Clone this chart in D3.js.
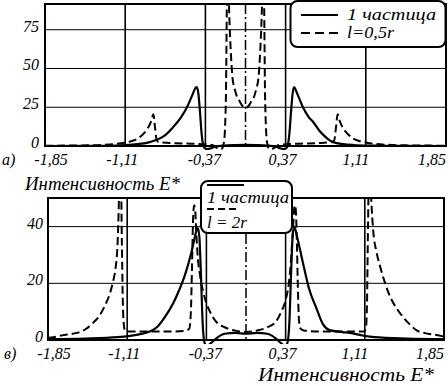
<!DOCTYPE html>
<html><head><meta charset="utf-8">
<script src="https://cdn.jsdelivr.net/npm/d3@7/dist/d3.min.js"></script>
<style>
body{margin:0;background:#fff}
svg{display:block}
text{font-family:"Liberation Serif","Times New Roman","DejaVu Serif",serif;font-style:italic;fill:#000}
</style>
</head><body>
<svg id="c" width="448" height="386"></svg>
<script>
// ---------- data ----------
const xTickValues = [-1.85, -1.11, -0.37, 0.37, 1.11, 1.85];
const xTickLabels = ["-1,85", "-1,11", "-0,37", "0,37", "1,11", "1,85"];
const xGridValues = [-1.11, -0.37, 0.37, 1.11];
const topYTicks = [0, 25, 50, 75];
const botYTicks = [0, 20, 40];
const panelLetters = ["а)", "в)"];
const axisTitle = "Интенсивность E*";
const legendTop = ["1 частица", "l=0,5r"];
const legendBot = ["1 частица", "l = 2r"];

// panel a) : 1 particle (solid)
const topSolidX = [-1.85,-1.4,-1.2,-1.11,-1.0,-0.9,-0.82,-0.75,-0.67,-0.6,-0.54,-0.49,-0.46,-0.45,-0.435,-0.42,-0.405,-0.39,-0.375,-0.35,-0.32,-0.28,-0.2,-0.1,0,0.1,0.2,0.28,0.32,0.35,0.375,0.39,0.405,0.42,0.435,0.45,0.47,0.53,0.58,0.63,0.68,0.72,0.77,0.81,0.9,1.0,1.11,1.2,1.4,1.85];
const topSolidY = [0,0.1,0.3,0.6,1.2,2.2,4,6.5,12,18,25,33,37.5,38,34,22,8,0.5,-1.5,-2,-1.5,-0.5,0.3,0.6,0.7,0.6,0.3,-0.5,-1.5,-2,-1.5,0.5,8,22,34,38,35,25,19,15,10,7,4,2.5,1.2,0.6,0.3,0.2,0.1,0];
// panel a) : l = 0,5r (dashed)
const topDashX = [-1.85,-1.5,-1.3,-1.15,-1.05,-0.99,-0.94,-0.9,-0.87,-0.85,-0.835,-0.82,-0.8,-0.7,-0.5,-0.35,-0.3,-0.27,-0.24,-0.215,-0.2,-0.19,-0.18,-0.17,-0.16,-0.15,-0.135,-0.12,-0.1,-0.08,-0.055,-0.03,0,0.03,0.055,0.08,0.1,0.12,0.135,0.15,0.16,0.17,0.18,0.19,0.2,0.215,0.24,0.27,0.3,0.35,0.5,0.7,0.8,0.82,0.835,0.85,0.87,0.9,0.94,0.99,1.05,1.15,1.3,1.5,1.85];
const topDashY = [0.2,0.4,0.8,1.8,3.2,5,8,11.6,16,20.5,12,4,2.5,2,1.5,1,0.5,-1,-2,-1.5,2,10,35,100,110,85,60,44,37,32,29,26,24.5,26,29,32,37,44,60,85,110,100,35,10,2,-1.5,-2,-1,0.5,1,1.5,2,2.5,4,12,20.5,16,11.6,8,5,3.2,1.8,0.8,0.4,0.2];

// panel в) : 1 particle (solid)
const botSolidX = [-1.85,-1.5,-1.2,-1.0,-0.9,-0.83,-0.76,-0.68,-0.62,-0.57,-0.51,-0.48,-0.46,-0.45,-0.435,-0.42,-0.405,-0.39,-0.375,-0.36,-0.33,-0.28,-0.2,-0.1,0,0.1,0.2,0.28,0.33,0.36,0.375,0.39,0.405,0.42,0.435,0.45,0.48,0.53,0.59,0.66,0.72,0.78,0.9,0.97,1.1,1.2,1.5,1.85];
const botSolidY = [0.3,0.5,1,2,3,4.6,8,13,18,23,31,36,39,39.5,36,22,6,-0.5,-1.8,-2,-1.2,0.5,2.2,2.5,2.2,2.5,2.2,0.5,-1.2,-2,-1.8,-0.5,6,22,36,40,36,27.5,18,11,5.5,3.5,2.8,2.5,1.5,1,0.5,0.3];
// panel в) : l = 2r (dashed)
const botDashX = [-1.85,-1.8,-1.7,-1.58,-1.5,-1.43,-1.37,-1.32,-1.27,-1.24,-1.22,-1.2,-1.19,-1.18,-1.17,-1.16,-1.15,-1.14,-1.13,-1.11,-0.9,-0.7,-0.57,-0.53,-0.515,-0.505,-0.495,-0.485,-0.475,-0.465,-0.45,-0.43,-0.4,-0.37,-0.33,-0.28,-0.2,-0.1,0,0.1,0.2,0.28,0.33,0.37,0.4,0.42,0.44,0.455,0.465,0.475,0.485,0.495,0.51,0.55,0.7,0.9,1.1,1.12,1.13,1.14,1.15,1.16,1.17,1.19,1.22,1.26,1.3,1.35,1.41,1.47,1.53,1.59,1.7,1.78,1.85];
const botDashY = [0.8,1,1.8,2.5,3.8,6,8.5,12,16.6,21,25,34,45,60,60,35,12,5,3.2,3,3,3,3.2,4,10,25,42,47.5,46,38,29,23,17,13,9.5,6.5,4.5,3.3,2.8,3.3,4.5,6.5,10,14,20,28,40,47.5,46,35,18,7,4,3.3,3,3,3,4,12,40,60,60,50,38,31,25,20,15,11,8,5.5,3.5,2.2,1.8,1.2];

// ---------- drawing ----------
const svg = d3.select("#c");
const labelDx = [6, -3, -1, -3, -10, -14];

function panel(o) {
  const x = d3.scaleLinear().domain([-1.85, 1.85]).range([o.left, o.right]);
  const y = d3.scaleLinear().domain([0, o.ymax]).range([o.bottom, o.top]);
  const g = svg.append("g");
  const cid = "clip" + o.id;
  svg.append("clipPath").attr("id", cid).append("rect")
    .attr("x", o.left).attr("y", o.top).attr("width", o.right - o.left).attr("height", o.bottom - o.top + 4);

  g.selectAll(".hg").data(o.yTicks.filter(d => d > 0)).enter().append("line")
    .attr("x1", o.left).attr("x2", o.right).attr("y1", d => y(d)).attr("y2", d => y(d))
    .attr("stroke", "#000").attr("stroke-width", 1);
  g.selectAll(".vg").data(xGridValues).enter().append("line")
    .attr("x1", d => x(d)).attr("x2", d => x(d)).attr("y1", o.top).attr("y2", o.bottom)
    .attr("stroke", "#000").attr("stroke-width", 1.6);
  g.append("line").attr("x1", x(0)).attr("x2", x(0)).attr("y1", o.top).attr("y2", o.bottom)
    .attr("stroke", "#000").attr("stroke-width", 1.5).attr("stroke-dasharray", "10,3,2,3");

  const line = d3.line().x(d => x(d[0])).y(d => y(d[1])).curve(d3.curveMonotoneX);
  const lg = g.append("g").attr("clip-path", `url(#${cid})`);
  lg.append("path").datum(d3.zip(o.dX, o.dY)).attr("d", line)
    .attr("fill", "none").attr("stroke", "#000").attr("stroke-width", 2).attr("stroke-dasharray", "8,4");
  lg.append("path").datum(d3.zip(o.sX, o.sY)).attr("d", line)
    .attr("fill", "none").attr("stroke", "#000").attr("stroke-width", 2.2);

  g.append("rect").attr("x", o.left).attr("y", o.top).attr("width", o.right - o.left).attr("height", o.bottom - o.top)
    .attr("fill", "none").attr("stroke", "#000").attr("stroke-width", 2);

  g.selectAll(".yl").data(o.yTicks).enter().append("text")
    .attr("x", o.yLabelX).attr("y", d => y(d) + 2).attr("text-anchor", "end")
    .attr("font-size", 16).text(d => d);
  g.selectAll(".xl").data(xTickValues).enter().append("text")
    .attr("x", (d, i) => x(d) + labelDx[i]).attr("y", o.xLabelY).attr("text-anchor", "middle")
    .attr("font-size", 16).text((d, i) => xTickLabels[i]);
  g.append("text").attr("x", o.letterX).attr("y", o.xLabelY).attr("font-size", 16).text(o.letter);
  return {x, y};
}

panel({id: "a", left: 45, right: 446, top: 4, bottom: 146, ymax: 91.6, yTicks: topYTicks,
  sX: topSolidX, sY: topSolidY, dX: topDashX, dY: topDashY, yLabelX: 39, xLabelY: 165, letter: panelLetters[0], letterX: 2});
panel({id: "b", left: 48, right: 444, top: 198, bottom: 340, ymax: 50.1, yTicks: botYTicks,
  sX: botSolidX, sY: botSolidY, dX: botDashX, dY: botDashY, yLabelX: 43, xLabelY: 359, letter: panelLetters[1], letterX: 4});

svg.append("text").attr("x", 25).attr("y", 190).attr("font-size", 18)
  .attr("textLength", 155).attr("lengthAdjust", "spacingAndGlyphs").text(axisTitle);
svg.append("text").attr("x", 258).attr("y", 381).attr("font-size", 19)
  .attr("textLength", 176).attr("lengthAdjust", "spacingAndGlyphs").text(axisTitle);

const L1 = svg.append("g");
L1.append("rect").attr("x", 290.5).attr("y", 1).attr("width", 155).attr("height", 46).attr("rx", 7)
  .attr("fill", "#fff").attr("stroke", "#000").attr("stroke-width", 2);
L1.append("line").attr("x1", 301).attr("x2", 338).attr("y1", 15).attr("y2", 15).attr("stroke", "#000").attr("stroke-width", 2.2);
L1.append("line").attr("x1", 301).attr("x2", 338).attr("y1", 33).attr("y2", 33).attr("stroke", "#000").attr("stroke-width", 2).attr("stroke-dasharray", "9,5");
L1.append("text").attr("x", 347).attr("y", 20).attr("font-size", 16)
  .attr("textLength", 89).attr("lengthAdjust", "spacingAndGlyphs").text(legendTop[0]);
L1.append("text").attr("x", 347).attr("y", 38).attr("font-size", 16)
  .attr("textLength", 47).attr("lengthAdjust", "spacingAndGlyphs").text(legendTop[1]);

const L2 = svg.append("g");
L2.append("rect").attr("x", 201).attr("y", 181).attr("width", 91).attr("height", 52).attr("rx", 7)
  .attr("fill", "#fff").attr("stroke", "#000").attr("stroke-width", 2);
L2.append("line").attr("x1", 207).attr("x2", 244).attr("y1", 185).attr("y2", 185).attr("stroke", "#000").attr("stroke-width", 2.2);
L2.append("text").attr("x", 207).attr("y", 203).attr("font-size", 17)
  .attr("textLength", 82).attr("lengthAdjust", "spacingAndGlyphs").text(legendBot[0]);
L2.append("line").attr("x1", 207).attr("x2", 236).attr("y1", 209).attr("y2", 209).attr("stroke", "#000").attr("stroke-width", 2).attr("stroke-dasharray", "7,4");
L2.append("text").attr("x", 207).attr("y", 228).attr("font-size", 17).text(legendBot[1]);
</script>
</body></html>
